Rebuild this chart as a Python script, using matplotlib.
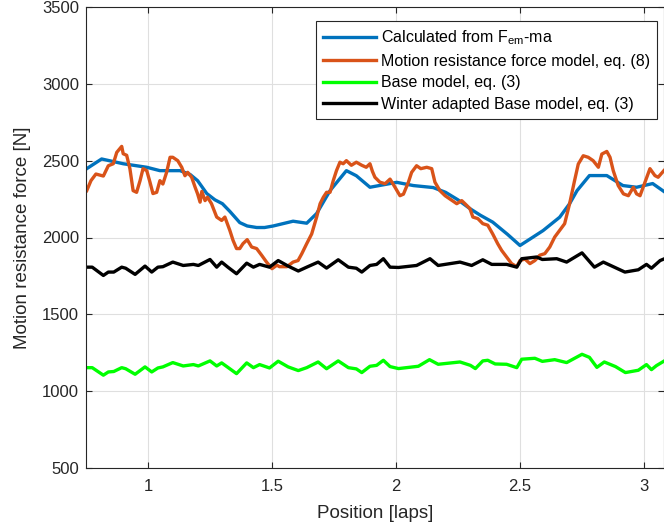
import matplotlib
matplotlib.use("Agg")
import matplotlib.pyplot as plt
import numpy as np

# data
blue_x = [0.753, 0.813, 0.90, 0.995, 1.048, 1.129, 1.17, 1.20, 1.237, 1.27, 1.30, 1.33,
          1.37, 1.40, 1.438, 1.47, 1.505, 1.585, 1.64, 1.68, 1.734, 1.80, 1.84, 1.895,
          2.003, 2.07, 2.15, 2.20, 2.25, 2.298, 2.34, 2.39, 2.45, 2.5, 2.55, 2.593,
          2.66, 2.70, 2.73, 2.78, 2.85, 2.915, 2.97, 3.035, 3.08]
blue_y = [2448, 2511, 2480, 2457, 2435, 2435, 2410, 2370, 2286, 2245, 2220, 2170,
          2097, 2075, 2065, 2065, 2075, 2106, 2093, 2156, 2305, 2435, 2402, 2327,
          2359, 2338, 2325, 2294, 2245, 2188, 2145, 2100, 2020, 1948, 2000, 2045,
          2132, 2220, 2305, 2403, 2403, 2338, 2327, 2351, 2300]

orange_x = [0.753, 0.77, 0.79, 0.82, 0.84, 0.86, 0.874, 0.894, 0.90, 0.914, 0.927, 0.94,
            0.954, 0.968, 0.98, 0.995, 1.008, 1.02, 1.035, 1.048, 1.06, 1.075, 1.089, 1.10,
            1.12, 1.136, 1.149, 1.16, 1.176, 1.19, 1.20, 1.21, 1.217, 1.23, 1.24, 1.256,
            1.277, 1.297, 1.31, 1.33, 1.343, 1.357, 1.37, 1.383, 1.40, 1.418, 1.438, 1.458,
            1.478, 1.50, 1.52, 1.53, 1.56, 1.585, 1.605, 1.62, 1.64, 1.66, 1.68, 1.694,
            1.707, 1.72, 1.734, 1.747, 1.76, 1.774, 1.787, 1.80, 1.82, 1.84, 1.862, 1.88,
            1.895, 1.905, 1.915, 1.935, 1.956, 1.976, 1.996, 2.016, 2.03, 2.05, 2.063, 2.083,
            2.10, 2.124, 2.144, 2.157, 2.177, 2.198, 2.218, 2.245, 2.265, 2.278, 2.298, 2.31,
            2.33, 2.35, 2.37, 2.39, 2.41, 2.426, 2.446, 2.466, 2.487, 2.50, 2.52, 2.54,
            2.56, 2.58, 2.60, 2.62, 2.64, 2.66, 2.68, 2.70, 2.72, 2.735, 2.755, 2.775,
            2.795, 2.816, 2.83, 2.85, 2.863, 2.876, 2.896, 2.917, 2.937, 2.957, 2.97, 2.984,
            3.004, 3.024, 3.044, 3.057, 3.08]
orange_y = [2305, 2370, 2413, 2400, 2467, 2480, 2554, 2593, 2545, 2535, 2448, 2305,
            2294, 2370, 2448, 2435, 2360, 2286, 2294, 2370, 2348, 2424, 2522, 2522,
            2500, 2457, 2402, 2424, 2392, 2327, 2284, 2230, 2300, 2240, 2262, 2220,
            2133, 2111, 2133, 2046, 1981, 1928, 1928, 1960, 1986, 1938, 1928, 1885,
            1840, 1797, 1820, 1810, 1810, 1840, 1850, 1894, 1960, 2023, 2133, 2220,
            2262, 2294, 2294, 2370, 2435, 2490, 2480, 2500, 2470, 2490, 2470, 2457,
            2480, 2430, 2392, 2360, 2350, 2380, 2327, 2272, 2282, 2360, 2424, 2467,
            2448, 2457, 2448, 2360, 2305, 2272, 2250, 2220, 2240, 2220, 2188, 2133,
            2123, 2090, 2080, 2023, 1960, 1916, 1873, 1830, 1810, 1850, 1860, 1830,
            1850, 1885, 1895, 1938, 2003, 2046, 2090, 2220, 2370, 2478, 2532, 2522,
            2500, 2457, 2543, 2560, 2522, 2435, 2338, 2284, 2272, 2327, 2284, 2272,
            2360, 2448, 2403, 2392, 2435]

black_x = [0.753, 0.775, 0.82, 0.84, 0.862, 0.894, 0.91, 0.948, 0.988, 1.015, 1.04, 1.06,
           1.10, 1.142, 1.183, 1.203, 1.25, 1.277, 1.297, 1.322, 1.357, 1.398, 1.425, 1.45,
           1.49, 1.525, 1.565, 1.606, 1.64, 1.686, 1.72, 1.767, 1.808, 1.84, 1.862, 1.895,
           1.922, 1.949, 1.976, 2.01, 2.083, 2.137, 2.17, 2.258, 2.305, 2.35, 2.386, 2.446,
           2.487, 2.507, 2.567, 2.59, 2.648, 2.688, 2.75, 2.80, 2.836, 2.923, 2.977, 3.01,
           3.03, 3.065, 3.08]
black_y = [1807, 1807, 1753, 1775, 1775, 1807, 1800, 1760, 1814, 1775, 1807, 1810,
           1840, 1818, 1825, 1818, 1857, 1807, 1840, 1807, 1764, 1833, 1807, 1825,
           1807, 1850, 1814, 1782, 1807, 1840, 1801, 1855, 1807, 1800, 1775, 1818,
           1825, 1862, 1807, 1805, 1818, 1862, 1818, 1840, 1818, 1855, 1825, 1825,
           1807, 1862, 1873, 1857, 1862, 1840, 1900, 1807, 1840, 1775, 1790, 1825,
           1800, 1850, 1860]

green_x = [0.753, 0.775, 0.82, 0.84, 0.862, 0.894, 0.91, 0.948, 0.988, 1.015, 1.04, 1.06,
           1.10, 1.142, 1.183, 1.203, 1.25, 1.277, 1.297, 1.322, 1.357, 1.398, 1.425, 1.45,
           1.49, 1.525, 1.565, 1.606, 1.64, 1.686, 1.72, 1.767, 1.808, 1.84, 1.862, 1.895,
           1.922, 1.949, 1.976, 2.01, 2.09, 2.135, 2.17, 2.258, 2.30, 2.32, 2.35, 2.37,
           2.40, 2.446, 2.487, 2.507, 2.56, 2.59, 2.64, 2.688, 2.75, 2.78, 2.81, 2.84,
           2.885, 2.925, 2.977, 3.01, 3.03, 3.05, 3.08]
green_y = [1153, 1153, 1104, 1125, 1128, 1153, 1146, 1110, 1158, 1125, 1151, 1158,
           1186, 1164, 1173, 1164, 1197, 1164, 1184, 1155, 1114, 1184, 1153, 1173,
           1151, 1195, 1158, 1134, 1153, 1190, 1146, 1197, 1153, 1145, 1121, 1162,
           1168, 1201, 1160, 1147, 1162, 1205, 1175, 1190, 1168, 1147, 1197, 1201,
           1177, 1175, 1153, 1208, 1214, 1194, 1205, 1186, 1240, 1220, 1155, 1190,
           1160, 1121, 1136, 1173, 1140, 1166, 1195]

labels = ["Calculated from F$_{em}$-ma",
          "Motion resistance force model, eq. (8)",
          "Base model, eq. (3)",
          "Winter adapted Base model, eq. (3)"]
colors = ["#0072BD", "#D95319", "#00FF00", "#000000"]

plt.rcParams['font.family'] = ['Liberation Sans', 'DejaVu Sans']
plt.rcParams['mathtext.default'] = 'regular'

fig = plt.figure(figsize=(6.64, 5.28), dpi=100)
W, H = 664, 528
ax = fig.add_axes([86 / W, (H - 468) / H, 578 / W, 461 / H])

series = [(blue_x, blue_y), (orange_x, orange_y), (green_x, green_y), (black_x, black_y)]
for (xs, ys), c, lab in zip(series, colors, labels):
    ax.plot(xs, ys, color=c, lw=2.4, label=lab, solid_joinstyle='round')

ax.set_xlim(0.75, 0.75 + 578 / 248)
ax.set_ylim(500, 3500)
ax.set_xticks([1, 1.5, 2, 2.5, 3])
ax.set_xticklabels(["1", "1.5", "2", "2.5", "3"])
ax.set_yticks(np.arange(500, 3501, 500))

ax.grid(True, color="#dfdfdf", lw=0.8)
ax.set_axisbelow(True)
for s in ax.spines.values():
    s.set_color("#262626")
    s.set_linewidth(0.8)
ax.tick_params(direction='in', length=4.5, width=0.8, colors="#262626",
               labelsize=12, top=True, right=True)
ax.tick_params(axis='x', pad=8)
ax.tick_params(axis='y', pad=5)

ax.set_xlabel("Position [laps]", fontsize=13.5, color="#262626", labelpad=8)
ax.set_ylabel("Motion resistance force [N]", fontsize=13.5, color="#262626", labelpad=8)

leg = ax.legend(loc='upper right', bbox_to_anchor=((657 - 86) / 578, (468 - 21) / 461),
                fancybox=False, framealpha=1, edgecolor="#262626", fontsize=11.5,
                handlelength=3.3, borderaxespad=0, labelspacing=0.42,
                handletextpad=0.3, borderpad=0.45)
leg.get_frame().set_linewidth(0.8)

fig.savefig("out.png", dpi=100)
